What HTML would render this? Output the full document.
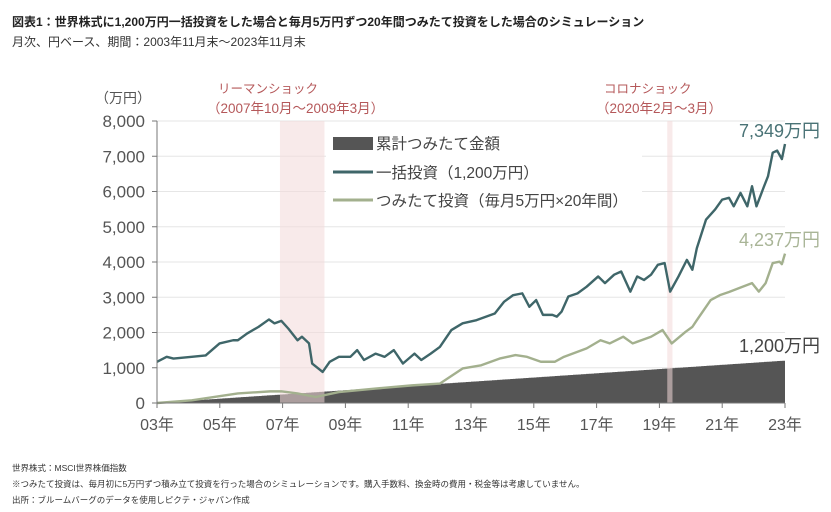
<!DOCTYPE html>
<html><head><meta charset="utf-8">
<style>
html,body{margin:0;padding:0;background:#fff;}
body{width:831px;height:512px;overflow:hidden;position:relative;font-family:"Liberation Sans","Noto Sans CJK JP",sans-serif;}
.t{position:absolute;white-space:nowrap;}
</style></head><body>
<div class="t" style="left:12px;top:13px;font-size:12px;font-weight:bold;color:#222;">図表1：世界株式に1,200万円一括投資をした場合と毎月5万円ずつ20年間つみたて投資をした場合のシミュレーション</div>
<div class="t" style="left:12px;top:33px;font-size:12px;color:#333;">月次、円ベース、期間：2003年11月末～2023年11月末</div>
<svg id="chart" width="831" height="512" style="position:absolute;left:0;top:0;font-family:'Liberation Sans','Noto Sans CJK JP',sans-serif;"></svg>
<div class="t" style="left:12px;top:462px;font-size:8.5px;color:#333;">世界株式：MSCI世界株価指数</div>
<div class="t" style="left:12px;top:478px;font-size:8.5px;color:#333;">※つみたて投資は、毎月初に5万円ずつ積み立て投資を行った場合のシミュレーションです。購入手数料、換金時の費用・税金等は考慮していません。</div>
<div class="t" style="left:12px;top:494px;font-size:8.5px;color:#333;">出所：ブルームバーグのデータを使用しピクテ・ジャパン作成</div>
<script>
// months since Nov 2003 and values (万円)
const lumpMonths=[0,3.7,6.3,13.3,18.6,23.9,29.1,30.9,34.4,38.8,42.8,44.9,47.5,50.2,53.7,55.4,58.1,59.3,63.3,66,69.5,73.9,76.5,79.1,83.5,87,90.5,94,98.4,101,104.6,108.1,112.5,116.8,122.1,129.1,132.6,136.1,139.6,142.3,144.9,147.5,151.1,152.8,154.6,157.2,160.7,164.2,168.6,171.2,174.7,177.4,180.9,183.5,186.1,188.8,191.4,194,196.1,199.3,202.5,204.6,206.3,209.8,213.3,216,218.6,220.4,223,225.6,227.4,229.1,231.8,233.5,235.3,237,238.8,240];
const lumpValues=[1170,1310,1260,1310,1350,1690,1780,1780,1970,2160,2370,2260,2330,2110,1780,1880,1690,1120,880,1170,1310,1310,1500,1220,1400,1310,1500,1120,1400,1220,1400,1590,2070,2260,2350,2540,2870,3060,3110,2730,2920,2500,2500,2450,2590,3020,3110,3300,3590,3400,3640,3730,3160,3590,3490,3640,3920,3970,3160,3590,4060,3780,4390,5200,5490,5770,5820,5580,5960,5580,6150,5580,6110,6430,7100,7160,6920,7349];
const tsumiMonths=[0,13.3,30.9,43.2,47.5,53.7,60.7,69.5,83.5,97.5,108.1,116.8,123.9,130.9,137,141.4,146.7,152,155.5,164.2,169.5,173,178.2,181.8,188.8,193.2,196.7,202,204.6,206.3,211.6,215.1,218.6,223.9,227.4,230,232.6,235.3,237.9,238.8,240];
const tsumiValues=[0,75,270,330,330,270,170,310,410,500,550,980,1070,1260,1360,1310,1170,1170,1310,1550,1780,1690,1880,1690,1880,2070,1690,2020,2160,2350,2920,3060,3150,3300,3400,3160,3400,3970,4010,3940,4237];
const monthlyContribution=5;
const totalMonths=240;
const yTicks=[0,1000,2000,3000,4000,5000,6000,7000,8000];
const yTickLabels=["0","1,000","2,000","3,000","4,000","5,000","6,000","7,000","8,000"];
const xTickYears=["03年","05年","07年","09年","11年","13年","15年","17年","19年","21年","23年"];
const xTickMonths=[0,24,48,72,96,120,144,168,192,216,240];
const shockRanges=[[47,64],[195,197]];
const endLabels=["7,349万円","4,237万円","1,200万円"];

const svg=document.getElementById('chart');
const NS='http://www.w3.org/2000/svg';
const X0=157,X1=785,Y0=403,YTOP=121;
const xs=m=>X0+(X1-X0)*m/totalMonths;
const ys=v=>Y0-(Y0-YTOP)*v/8000;
function mk(tag,attrs,parent){const e=document.createElementNS(NS,tag);for(const k in attrs)e.setAttribute(k,attrs[k]);(parent||svg).appendChild(e);return e;}

yTicks.forEach((v,i)=>{
  const g=mk('line',{x1:X0,x2:X1,y1:ys(v),y2:ys(v),stroke:'#e6e6e6','stroke-width':1});
  
  
  const t=mk('text',{x:145,y:ys(v)+6,'text-anchor':'end','font-size':17,fill:'#555'});
  t.textContent=yTickLabels[i];
  
  
  const tk=mk('line',{x1:X0-5,x2:X0,y1:ys(v),y2:ys(v),stroke:'#777'});
  
  
});
let d='M'+xs(0)+','+ys(0);
for(let m=0;m<totalMonths;m++){const v=monthlyContribution*(m+1);d+=' L'+xs(m)+','+ys(v)+' L'+xs(m+1)+','+ys(v);}
d+=' L'+xs(totalMonths)+','+ys(0)+' Z';
const area=mk('path',{d:d,fill:'#555'});


shockRanges.forEach((r,i)=>{
  const b=mk('rect',{x:xs(r[0]),y:YTOP,width:xs(r[1])-xs(r[0]),height:Y0-YTOP,fill:'#f2d9d9','fill-opacity':0.55});
  
  
});
const lb=mk('rect',{x:326,y:130,width:316,height:84,fill:'#fff'});


function line(ms,vs,color,name){
  const p=mk('polyline',{points:ms.map((m,i)=>xs(m)+','+ys(vs[i])).join(' '),fill:'none',stroke:color,'stroke-width':2.4,'stroke-linejoin':'round'});
  
  
}
line(tsumiMonths,tsumiValues,'#a3b08e','tsumitate-line');
line(lumpMonths,lumpValues,'#3f6669','lump-sum-line');
const ax=mk('line',{x1:X0,x2:X0,y1:YTOP,y2:Y0,stroke:'#777'});

const bx=mk('line',{x1:X0,x2:X1,y1:Y0,y2:Y0,stroke:'#777'});

xTickMonths.forEach((m,i)=>{
  const tk=mk('line',{x1:xs(m),x2:xs(m),y1:Y0,y2:Y0+5,stroke:'#777'});
  
  
  const t=mk('text',{x:xs(m),y:430,'text-anchor':'middle','font-size':16,fill:'#555'});
  t.textContent=xTickYears[i];
  
  
});
const ls=mk('rect',{x:333,y:137,width:40,height:13,fill:'#555'});

const l2=mk('line',{x1:333,x2:373,y1:172,y2:172,stroke:'#3f6669','stroke-width':3});

const l3=mk('line',{x1:333,x2:373,y1:200,y2:200,stroke:'#a3b08e','stroke-width':3});

[['累計つみたて金額',149,'legend-entry-cumulative'],['一括投資（1,200万円）',178,'legend-entry-lump-sum'],['つみたて投資（毎月5万円×20年間）',206,'legend-entry-tsumitate']].forEach(a=>{
  const t=mk('text',{x:376,y:a[1],'font-size':15.5,fill:'#444'});t.textContent=a[0];
  
  
});
[[endLabels[0],137,'#4a7376','end-label-lump-sum'],[endLabels[1],246,'#a9b597','end-label-tsumitate'],[endLabels[2],352,'#444','end-label-cumulative']].forEach(a=>{
  const t=mk('text',{x:820,y:a[1],'text-anchor':'end','font-size':18,fill:a[2]});t.textContent=a[0];
  
  
});
[['（万円）',95,103,'#555',14,'y-axis-unit'],['リーマンショック',218,93,'#b5585a',12.5,'lehman-label'],['（2007年10月～2009年3月）',207,113,'#b5585a',13.5,'lehman-period'],['コロナショック',604,93,'#b5585a',12.5,'corona-label'],['（2020年2月～3月）',596,113,'#b5585a',13.5,'corona-period']].forEach(a=>{
  const t=mk('text',{x:a[1],y:a[2],'font-size':a[4],fill:a[3]});t.textContent=a[0];
  
  
});
</script>
</body></html>
